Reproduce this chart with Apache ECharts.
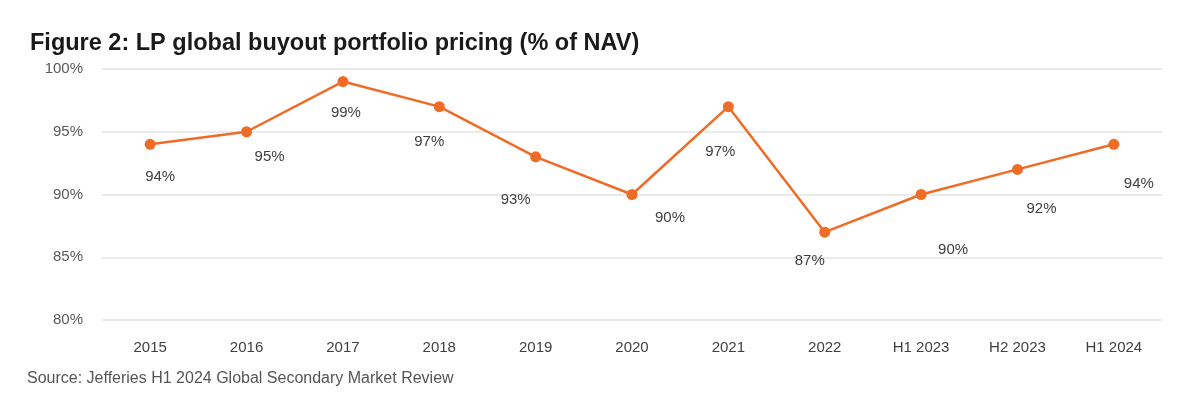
<!DOCTYPE html>
<html>
<head>
<meta charset="utf-8">
<script src="https://cdn.jsdelivr.net/npm/echarts@6/dist/echarts.min.js"></script>
<style>
html,body{margin:0;padding:0;background:#fff;}
#chart{width:1200px;height:408px;}
</style>
</head>
<body>
<div id="chart"></div>
<script>
const categories = ['2015','2016','2017','2018','2019','2020','2021','2022','H1 2023','H2 2023','H1 2024'];
const pricing = [94, 95, 99, 97, 93, 90, 97, 87, 90, 92, 94];
const yTicks = [80, 85, 90, 95, 100];
const titleText = 'Figure 2: LP global buyout portfolio pricing (% of NAV)';
const sourceText = 'Source: Jefferies H1 2024 Global Secondary Market Review';

// label placement offsets (style only, in px relative to the point)
const labelOffsets = [[10,33],[23,25],[3,31],[-10,35],[-20,43],[38,23],[-8,45],[-15,29],[32,55],[24,39],[25,40]];

const chart = echarts.init(document.getElementById('chart'));
const font = '"Liberation Sans", Arial, sans-serif';
chart.setOption({
  animation: false,
  backgroundColor: '#fff',
  title: [{
    text: titleText, left: 25, top: 27,
    textStyle: {fontFamily: font, fontSize: 23.5, fontWeight: 'bold', color: '#1a1a1a'}
  }, {
    text: sourceText, left: 22, top: 366,
    textStyle: {fontFamily: font, fontSize: 16, fontWeight: 'normal', color: '#555'}
  }],
  grid: {left: 102, right: 38, top: 69, bottom: 88},
  xAxis: {
    type: 'category', data: categories, boundaryGap: true,
    axisLine: {show: false}, axisTick: {show: false},
    axisLabel: {fontFamily: font, fontSize: 15, color: '#404040', margin: 20}
  },
  yAxis: {
    type: 'value', min: yTicks[0], max: yTicks[yTicks.length-1], interval: 5,
    axisLine: {show: false}, axisTick: {show: false},
    axisLabel: {fontFamily: font, fontSize: 15, color: '#595959', margin: 19, formatter: v => v + '%'},
    splitLine: {lineStyle: {color: '#e3e3e3', width: 1.5}}
  },
  series: [{
    type: 'line',
    data: pricing.map((v, i) => ({
      value: v,
      label: {offset: labelOffsets[i]}
    })),
    symbol: 'circle', symbolSize: 11,
    lineStyle: {color: '#EF6C26', width: 2.5},
    itemStyle: {color: '#EF6C26'},
    label: {
      show: true, position: 'inside',
      formatter: p => p.value + '%',
      fontFamily: font, fontSize: 15, color: '#404040'
    }
  }]
});
</script>
</body>
</html>
